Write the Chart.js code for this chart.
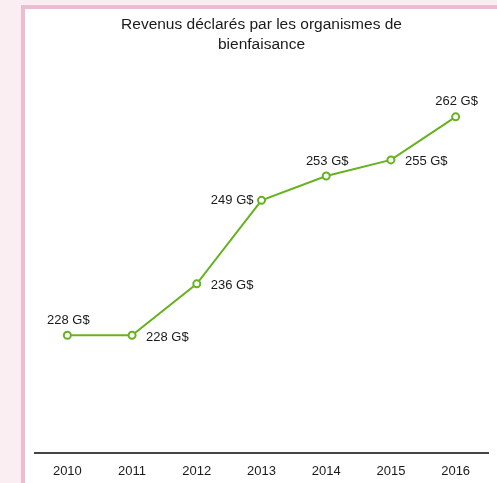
<!DOCTYPE html>
<html><head><meta charset="utf-8">
<script src="https://cdn.jsdelivr.net/npm/chart.js@4"></script>
<style>
html,body{margin:0;padding:0;background:#fbeef3;width:497px;height:483px;overflow:hidden;}
#box{position:absolute;left:21px;top:5px;width:472px;height:474px;border-left:4px solid #ebbdd0;border-top:4px solid #ebbdd0;background:#fff;}
#wrap{position:absolute;left:0;top:0;width:472px;height:484px;}
</style></head>
<body>
<div id="box"><div id="wrap"><canvas id="c"></canvas></div></div>
<script>
const years = ['2010','2011','2012','2013','2014','2015','2016'];
const revenues = [228, 228, 236, 249, 252.8, 255.3, 262];
const valueLabels = ['228 G$','228 G$','236 G$','249 G$','253 G$','255 G$','262 G$'];
const labelPlacement = ['above','right','right','left','above','right','above'];

const labelPlugin = {
  id: 'valueLabels',
  afterDatasetsDraw(chart) {
    const ctx = chart.ctx;
    const meta = chart.getDatasetMeta(0);
    ctx.save();
    ctx.font = '13px "Liberation Sans", Arial, sans-serif';
    ctx.fillStyle = '#1a1a1a';
    ctx.textBaseline = 'middle';
    meta.data.forEach((pt, i) => {
      const p = labelPlacement[i];
      if (p === 'above') { ctx.textAlign = 'center'; ctx.fillText(valueLabels[i], pt.x + 1, pt.y - 15); }
      else if (p === 'right') { ctx.textAlign = 'left'; ctx.fillText(valueLabels[i], pt.x + 14, pt.y + 2); }
      else { ctx.textAlign = 'right'; ctx.fillText(valueLabels[i], pt.x - 8, pt.y); }
    });
    ctx.restore();
  }
};

new Chart(document.getElementById('c'), {
  type: 'line',
  data: {
    labels: years,
    datasets: [{
      data: revenues,
      borderColor: '#67b21f',
      borderWidth: 2,
      pointRadius: 3.5,
      pointBorderWidth: 2,
      pointBackgroundColor: '#fff',
      pointBorderColor: '#67b21f',
      tension: 0
    }]
  },
  options: {
    responsive: true,
    maintainAspectRatio: false,
    animation: false,
    layout: { padding: { left: 10, right: 9, top: 0, bottom: 4 } },
    plugins: {
      legend: { display: false },
      tooltip: { enabled: false },
      title: {
        display: true,
        text: ['Revenus déclarés par les organismes de', 'bienfaisance'],
        color: '#1a1a1a',
        font: { family: '"Liberation Sans", Arial, sans-serif', size: 15.5, weight: 'normal', lineHeight: 1.29 },
        padding: { top: 6, bottom: 15 }
      }
    },
    scales: {
      x: {
        offset: true,
        grid: { display: false, drawTicks: false },
        border: { display: true, color: '#444', width: 2 },
        ticks: { color: '#1a1a1a', padding: 10, font: { family: '"Liberation Sans", Arial, sans-serif', size: 13 } }
      },
      y: {
        display: false,
        min: 209.6,
        max: 269.3
      }
    }
  },
  plugins: [labelPlugin]
});
</script>
</body></html>
